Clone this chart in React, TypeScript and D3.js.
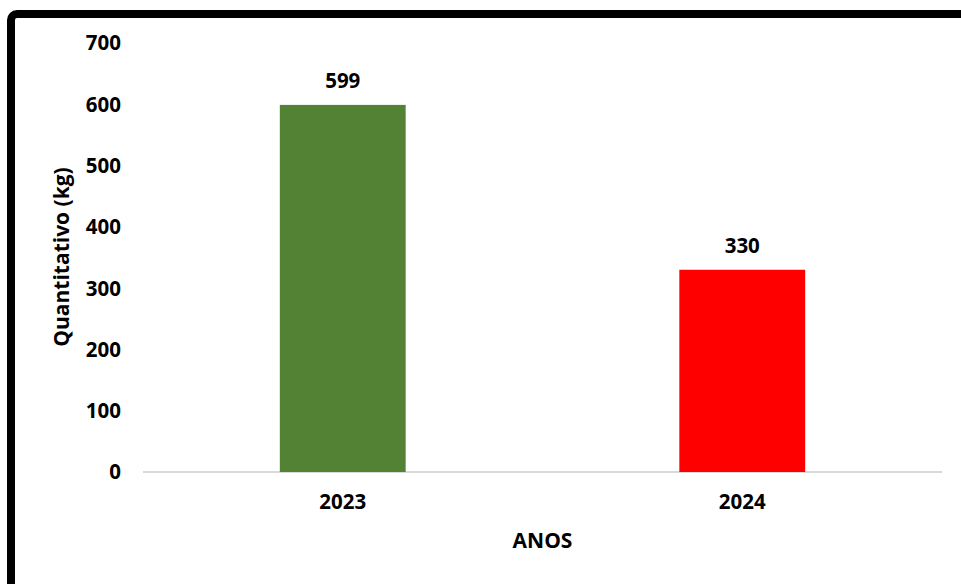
import React, { useEffect, useRef } from 'react'
import * as d3 from 'd3'

const categories = ['2023', '2024']
const values = [599, 330]
const barColors = ['#548235', '#FF0000']
const yTicks = [0, 100, 200, 300, 400, 500, 600, 700]
const yTitle = 'Quantitativo (kg)'
const xTitle = 'ANOS'

const W = 961
const H = 584
const FONT = '"Open Sans", sans-serif'

export default function App() {
    const svgRef = useRef<SVGSVGElement>(null)

    useEffect(() => {
        const svg = d3.select(svgRef.current)
        svg.selectAll('*').remove()

        const left = 143, right = 942, top = 43, bottom = 472

        // outer frame, only top and left edges show inside the picture
        svg.append('rect')
            .attr('x', 11).attr('y', 14)
            .attr('width', W + 40).attr('height', H + 40)
            .attr('rx', 6).attr('ry', 6)
            .attr('fill', 'white')
            .attr('stroke', 'black')
            .attr('stroke-width', 8)

        const x = d3.scaleBand<string>()
            .domain(categories)
            .range([left, right])
            .paddingInner(0.685)
            .paddingOuter(0.3425)

        const y = d3.scaleLinear()
            .domain([0, 700])
            .range([bottom, top])

        // baseline
        svg.append('line')
            .attr('x1', left).attr('x2', right)
            .attr('y1', y(0)).attr('y2', y(0))
            .attr('stroke', '#d9d9d9')
            .attr('stroke-width', 2)

        // y ticks
        svg.append('g')
            .selectAll('text')
            .data(yTicks)
            .enter().append('text')
            .attr('x', 121)
            .attr('y', d => y(d))
            .attr('dy', '0.36em')
            .attr('text-anchor', 'end')
            .attr('font-family', FONT)
            .attr('font-weight', 'bold')
            .attr('font-size', 20.5)
            .attr('fill', 'black')
            .text(d => d)

        // bars
        svg.append('g')
            .selectAll('rect')
            .data(values)
            .enter().append('rect')
            .attr('x', (d, i) => x(categories[i]) as number)
            .attr('width', x.bandwidth())
            .attr('y', d => y(d))
            .attr('height', d => y(0) - y(d))
            .attr('fill', (d, i) => barColors[i])

        // value labels
        svg.append('g')
            .selectAll('text')
            .data(values)
            .enter().append('text')
            .attr('x', (d, i) => (x(categories[i]) as number) + x.bandwidth() / 2)
            .attr('y', d => y(d) - 17)
            .attr('text-anchor', 'middle')
            .attr('font-family', FONT)
            .attr('font-weight', 'bold')
            .attr('font-size', 20.5)
            .attr('fill', 'black')
            .text(d => d)

        // category labels
        svg.append('g')
            .selectAll('text')
            .data(categories)
            .enter().append('text')
            .attr('x', d => (x(d) as number) + x.bandwidth() / 2)
            .attr('y', 509)
            .attr('text-anchor', 'middle')
            .attr('font-family', FONT)
            .attr('font-weight', 'bold')
            .attr('font-size', 20.5)
            .attr('fill', 'black')
            .text(d => d)

        svg.append('text')
            .attr('x', (left + right) / 2)
            .attr('y', 548)
            .attr('text-anchor', 'middle')
            .attr('font-family', FONT)
            .attr('font-weight', 'bold')
            .attr('font-size', 21)
            .attr('fill', 'black')
            .text(xTitle)

        svg.append('text')
            .attr('transform', `translate(69, 257) rotate(-90)`)
            .attr('text-anchor', 'middle')
            .attr('font-family', FONT)
            .attr('font-weight', 'bold')
            .attr('font-size', 21)
            .attr('fill', 'black')
            .text(yTitle)
    }, [])

    return (
        <svg ref={svgRef} width={W} height={H}
             style={{ position: 'absolute', left: 0, top: 0, background: 'white' }} />
    )
}
